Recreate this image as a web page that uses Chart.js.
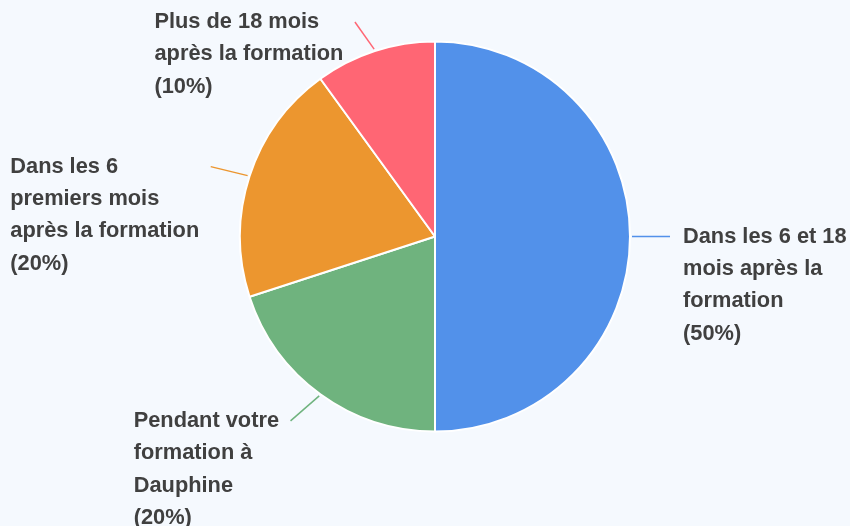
<!DOCTYPE html>
<html>
<head>
<meta charset="utf-8">
<script src="https://cdn.jsdelivr.net/npm/chart.js@4"></script>
<style>
html,body{margin:0;padding:0;background:#f5f9fe;}
#wrap{width:850px;height:526px;position:relative;}
</style>
</head>
<body>
<div id="wrap"><canvas id="c" width="850" height="526"></canvas></div>
<script>
const categories = [
  ["Dans les 6 et 18", "mois après la", "formation"],
  ["Pendant votre", "formation à", "Dauphine"],
  ["Dans les 6", "premiers mois", "après la formation"],
  ["Plus de 18 mois", "après la formation"]
];
const values = [50, 20, 20, 10];
const colors = ["#5291ea", "#6fb37e", "#ec962f", "#ff6674"];

const labelPlugin = {
  id: 'outerLabels',
  afterDatasetsDraw(chart) {
    const ctx = chart.ctx;
    const meta = chart.getDatasetMeta(0);
    const total = values.reduce((a, b) => a + b, 0);
    ctx.save();
    ctx.font = 'bold 21.8px "Liberation Sans", Arial, sans-serif';
    ctx.textBaseline = 'middle';
    ctx.textAlign = 'left';
    const lh = 32.4;
    meta.data.forEach((arc, i) => {
      const p = arc.getProps(['x', 'y', 'startAngle', 'endAngle', 'outerRadius'], true);
      const mid = (p.startAngle + p.endAngle) / 2;
      const r0 = p.outerRadius + 2;
      const sx = p.x + Math.cos(mid) * r0, sy = p.y + Math.sin(mid) * r0;
      // leader direction: pulled toward horizontal
      let a = Math.atan2(Math.sin(mid), Math.cos(mid));
      let ldir;
      if (Math.cos(mid) >= 0) ldir = a * 0.76;
      else {
        const dev = (a > 0 ? Math.PI - a : -Math.PI - a);
        ldir = (a > 0 ? Math.PI - dev * 0.76 : -Math.PI - dev * 0.76);
      }
      const ldx = Math.cos(ldir), ldy = Math.sin(ldir);
      let len = 38;
      const minY = 22;
      if (sy + ldy * len < minY) len = (minY - sy) / ldy;
      const ex = sx + ldx * len, ey = sy + ldy * len;
      ctx.strokeStyle = colors[i];
      ctx.lineWidth = 1.5;
      ctx.beginPath();
      ctx.moveTo(sx, sy);
      ctx.lineTo(ex, ey);
      ctx.stroke();
      const pct = Math.round(values[i] / total * 100);
      const lines = categories[i].concat(['(' + pct + '%)']);
      const w = Math.max(...lines.map(l => ctx.measureText(l).width));
      let tx;
      if (ldx >= -0.01) tx = ex + 13;
      else tx = ex - 11.5 - w;
      ctx.fillStyle = '#404040';
      lines.forEach((l, k) => ctx.fillText(l, tx, ey + k * lh));
    });
    ctx.restore();
  }
};

new Chart(document.getElementById('c'), {
  type: 'pie',
  data: {
    labels: categories.map(c => c.join(' ')),
    datasets: [{
      data: values,
      backgroundColor: colors,
      borderColor: '#ffffff',
      borderWidth: 2,
      radius: 195
    }]
  },
  options: {
    responsive: false,
    animation: false,
    layout: { padding: { left: 20, right: 0, top: 0, bottom: 53 } },
    plugins: { legend: { display: false }, tooltip: { enabled: false } }
  },
  plugins: [labelPlugin]
});
</script>
</body>
</html>
